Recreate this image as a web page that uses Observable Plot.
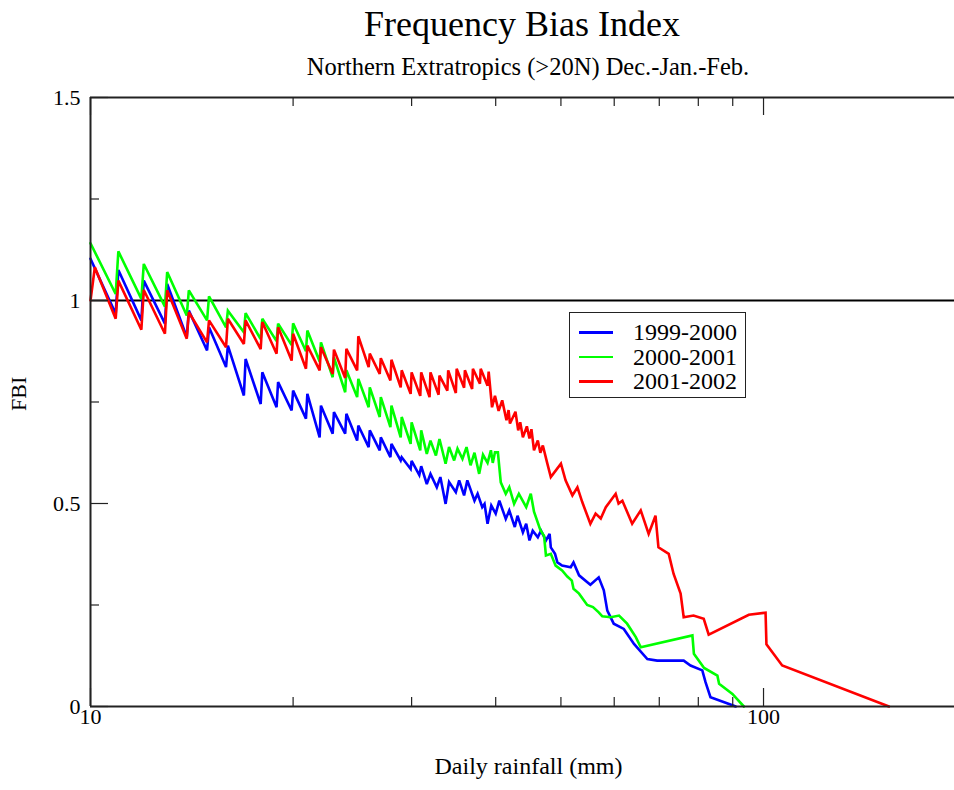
<!DOCTYPE html>
<html>
<head>
<meta charset="utf-8">
<script src="https://cdn.jsdelivr.net/npm/d3@7"></script>
<script src="https://cdn.jsdelivr.net/npm/@observablehq/plot@0.6"></script>
<style>
  body { margin: 0; background: #fff; }
  #wrap { position: relative; width: 954px; height: 790px; font-family: "Liberation Serif", "DejaVu Serif", serif; color: #000; overflow: hidden; }
  #head { position: relative; height: 85px; }
  #title { position: absolute; left: 90px; width: 864px; top: 1px; text-align: center; font-size: 36px; line-height: 46px; }
  #subtitle { position: absolute; left: 96px; width: 864px; top: 54px; text-align: center; font-size: 24.5px; line-height: 26px; }
  #legend { position: absolute; left: 569px; top: 312px; width: 177px; height: 86px; border: 1.5px solid #222; background: #fff; box-sizing: border-box; }
  .row { position: absolute; left: 0; height: 24px; line-height: 24px; font-size: 24px; }
  .sw { position: absolute; left: 9px; top: 11px; width: 34px; height: 2.6px; }
  .lb { position: absolute; left: 63px; top: 0; white-space: nowrap; }
</style>
</head>
<body>
<div id="wrap">
  <div id="head">
    <div id="title">Frequency Bias Index</div>
    <div id="subtitle">Northern Extratropics (&gt;20N) Dec.-Jan.-Feb.</div>
  </div>
  <div id="chart"></div>
  <div id="legend"></div>
</div>
<script>
// ---- data: [daily rainfall threshold (mm), FBI] ----
const seriesNames = ["1999-2000", "2000-2001", "2001-2002"];
const seriesColors = ["#0000ff", "#00ff00", "#ff0000"];

const blue = [
[10,1.103],[10.9,0.967],[11,1.075],[11.9,0.951],[12,1.049],[12.9,0.943],[13,1.041],[13.9,0.910],[14,0.975],[14.9,0.877],
[15,0.934],[15.9,0.836],[16,0.889],[16.9,0.766],[17,0.856],[17.9,0.745],[18,0.823],[18.9,0.737],[19,0.799],[19.9,0.729],
[20,0.778],[20.9,0.709],[21,0.770],[21.9,0.663],[22,0.741],[22.9,0.672],[23,0.725],[23.9,0.672],[24,0.721],[24.9,0.655],
[25,0.692],[25.9,0.639],[26,0.680],[26.9,0.631],[27,0.663],[27.9,0.614],[28,0.647],[28.9,0.606],[29,0.614],[29.9,0.585],
[30,0.605],[30.8,0.570],[31,0.592],[31.6,0.548],[32,0.573],[32.7,0.540],[33.1,0.565],[33.7,0.499],[34.1,0.553],[34.9,0.528],
[35.3,0.557],[35.9,0.520],[36.3,0.557],[37.2,0.507],[37.6,0.524],[38.2,0.491],[38.5,0.499],[38.9,0.450],[39.4,0.495],[40.0,0.475],
[40.5,0.507],[41.4,0.462],[41.9,0.483],[42.7,0.442],[43.1,0.470],[43.9,0.429],[44.4,0.450],[44.9,0.409],[45.4,0.433],[46.2,0.417],
[46.7,0.433],[47.5,0.409],[48.1,0.425],[48.3,0.392],[49.0,0.376],[49.4,0.355],[50.2,0.347],[51.7,0.343],[52.2,0.355],[53.2,0.323],
[55.3,0.300],[56.9,0.318],[57.9,0.286],[58.6,0.236],[59.9,0.204],[62.0,0.191],[64.2,0.154],[67.2,0.117],[69.5,0.113],[76.1,0.113],
[77.9,0.101],[81.1,0.089],[82.0,0.060],[83.4,0.023],[89.3,0.005],[90.9,0]
];

const green = [
[10,1.141],[10.9,1.016],[11,1.121],[11.9,1.004],[12,1.090],[12.9,0.985],[13,1.070],[13.9,0.963],[14,1.025],[14.9,0.951],
[15,1.010],[15.9,0.934],[16,0.975],[16.9,0.922],[17,0.969],[17.9,0.905],[18,0.955],[18.9,0.900],[19,0.943],[19.9,0.890],
[20,0.944],[20.9,0.875],[21,0.926],[21.9,0.850],[22,0.897],[22.9,0.811],[23,0.860],[23.9,0.774],[24,0.828],[24.9,0.762],
[25,0.807],[25.9,0.737],[26,0.786],[26.9,0.713],[27,0.762],[27.9,0.688],[28,0.741],[28.9,0.663],[29,0.713],[29.9,0.647],
[30,0.700],[30.9,0.631],[31,0.680],[31.6,0.622],[32,0.655],[32.6,0.618],[33.0,0.659],[33.7,0.598],[34.1,0.639],[34.7,0.606],
[35.1,0.635],[35.7,0.610],[36.2,0.639],[36.7,0.594],[37.2,0.625],[37.8,0.573],[38.3,0.620],[38.9,0.600],[39.35,0.631],[39.6,0.600],
[39.9,0.626],[40.3,0.626],[40.7,0.552],[41.4,0.524],[41.9,0.540],[42.6,0.499],[43.3,0.524],[44.4,0.491],[45.1,0.524],[45.6,0.480],
[46.6,0.435],[47.2,0.420],[47.5,0.372],[48.3,0.376],[49.1,0.347],[50.2,0.335],[51.1,0.320],[51.9,0.310],[52.2,0.290],[53.2,0.278],
[54.7,0.250],[55.8,0.245],[56.9,0.232],[57.6,0.222],[59.3,0.220],[61.0,0.224],[62.7,0.204],[64.6,0.171],[65.7,0.146],[78.4,0.175],
[78.8,0.130],[81.6,0.095],[85.4,0.076],[85.9,0.056],[89.9,0.031],[93.5,0]
];

const red = [
[10,1.000],[10.15,1.082],[10.9,0.955],[11,1.049],[11.9,0.928],[12,1.026],[12.9,0.918],[13,1.025],[13.9,0.906],[14,0.971],
[14.9,0.897],[15,0.951],[15.9,0.885],[16,0.955],[16.9,0.893],[17,0.951],[17.9,0.880],[18,0.947],[18.9,0.869],[19,0.934],
[19.9,0.852],[20,0.918],[20.9,0.832],[21,0.889],[21.9,0.828],[22,0.885],[22.9,0.819],[23,0.879],[23.9,0.809],[24,0.881],
[24.9,0.828],[25,0.912],[25.9,0.836],[26,0.869],[26.9,0.819],[27,0.858],[27.9,0.803],[28,0.854],[28.9,0.786],[29,0.828],
[29.9,0.770],[30,0.823],[30.9,0.765],[31,0.823],[31.9,0.762],[32,0.823],[32.9,0.768],[33,0.815],[33.9,0.778],[34,0.828],
[34.9,0.772],[35,0.832],[35.9,0.785],[36,0.828],[36.9,0.782],[37,0.832],[37.9,0.795],[38,0.832],[38.9,0.790],[39.05,0.825],
[39.5,0.737],[39.9,0.765],[40.4,0.728],[40.9,0.754],[41.5,0.705],[41.8,0.730],[42.0,0.697],[42.8,0.726],[43.2,0.680],[43.5,0.700],
[43.9,0.663],[44.5,0.690],[44.9,0.660],[45.2,0.683],[45.6,0.631],[46.2,0.655],[46.6,0.625],[47.0,0.643],[47.7,0.600],
[48.3,0.565],[50.0,0.598],[50.8,0.557],[52.0,0.520],[52.9,0.540],[53.8,0.503],[55.3,0.450],[56.3,0.475],[57.3,0.463],[58.3,0.491],
[60.3,0.524],[60.9,0.500],[61.7,0.507],[63.8,0.450],[65.7,0.483],[67.5,0.425],[69.1,0.470],[69.8,0.392],[72.3,0.376],[73.5,0.327],
[75.3,0.278],[76.1,0.220],[78.7,0.224],[81.5,0.216],[82.9,0.177],[95.1,0.226],[100.7,0.231],[101.0,0.153],[106.6,0.101],[153.6,0]
];

const series = [blue, green, red];

const xMajorTicks = [10, 100];
const xMinorTicks = [20, 30, 40, 50, 60, 70, 80, 90];
const yMajorTicks = [0, 0.5, 1, 1.5];
const yMinorTicks = [0.25, 0.75, 1.25];
const xDomain = [10, 192.2];
const yDomain = [0, 1.5];
const referenceLine = [1];

const xLabel = "Daily rainfall (mm)";
const yLabel = "FBI";

// ---- layout ----
const W = 954, H = 705;
const mL = 90, mR = 0, mT = 12, mB = 84;
const plotW = W - mL - mR, plotH = H - mT - mB;
const majorLen = 18, minorLen = 9;

const lineMarks = series.map((s, i) => Plot.line(s, {
  x: d => d[0], y: d => d[1],
  stroke: seriesColors[i], strokeWidth: 2.6, strokeLinejoin: "miter", strokeMiterlimit: 3
}));

const chart = Plot.plot({
  width: W, height: H,
  marginLeft: mL, marginRight: mR, marginTop: mT, marginBottom: mB,
  x: {type: "log", domain: xDomain, axis: null},
  y: {domain: yDomain, axis: null},
  style: {fontFamily: "'Liberation Serif', serif", background: "#fff", overflow: "visible", color: "#000"},
  marks: [
    Plot.ruleY(referenceLine, {stroke: "#000", strokeWidth: 2}),
    ...lineMarks,
    // frame (left, bottom, top)
    Plot.ruleX([xDomain[0]], {stroke: "#222", strokeWidth: 2}),
    Plot.ruleY([yDomain[0], yDomain[1]], {stroke: "#222", strokeWidth: 2}),
    // x ticks (bottom and top, inward)
    Plot.tickX(xMajorTicks, {x: d => d, insetTop: plotH - majorLen, stroke: "#222", strokeWidth: 1.2}),
    Plot.tickX(xMinorTicks, {x: d => d, insetTop: plotH - minorLen, stroke: "#222", strokeWidth: 1.2}),
    Plot.tickX(xMajorTicks, {x: d => d, insetBottom: plotH - majorLen, stroke: "#222", strokeWidth: 1.2}),
    Plot.tickX(xMinorTicks, {x: d => d, insetBottom: plotH - minorLen, stroke: "#222", strokeWidth: 1.2}),
    // y ticks (left, inward)
    Plot.tickY(yMajorTicks, {y: d => d, insetRight: plotW - majorLen, stroke: "#222", strokeWidth: 1.2}),
    Plot.tickY(yMinorTicks, {y: d => d, insetRight: plotW - minorLen, stroke: "#222", strokeWidth: 1.2}),
    // tick labels
    Plot.text(xMajorTicks, {x: d => d, text: d => String(d), frameAnchor: "bottom", dy: 17, fontSize: 22, fill: "#000"}),
    Plot.text(yMajorTicks, {y: d => d, text: d => String(d), frameAnchor: "left", dx: -10, textAnchor: "end", fontSize: 22, fill: "#000"}),
    // axis titles
    Plot.text([xLabel], {text: d => d, frameAnchor: "bottom", dy: 67, dx: 6, fontSize: 24, fill: "#000"}),
    Plot.text([yLabel], {text: d => d, frameAnchor: "left", dx: -72, dy: 9, rotate: -90, fontSize: 22, fill: "#000"})
  ]
});
document.getElementById("chart").appendChild(chart);

// legend
const legend = document.getElementById("legend");
seriesNames.forEach((name, i) => {
  const row = document.createElement("div");
  row.className = "row";
  row.style.top = (7 + i * 24.5) + "px";
  row.style.width = "100%";
  const sw = document.createElement("div");
  sw.className = "sw";
  sw.style.background = seriesColors[i];
  const lb = document.createElement("div");
  lb.className = "lb";
  lb.textContent = name;
  row.appendChild(sw); row.appendChild(lb);
  legend.appendChild(row);
});
</script>
</body>
</html>
